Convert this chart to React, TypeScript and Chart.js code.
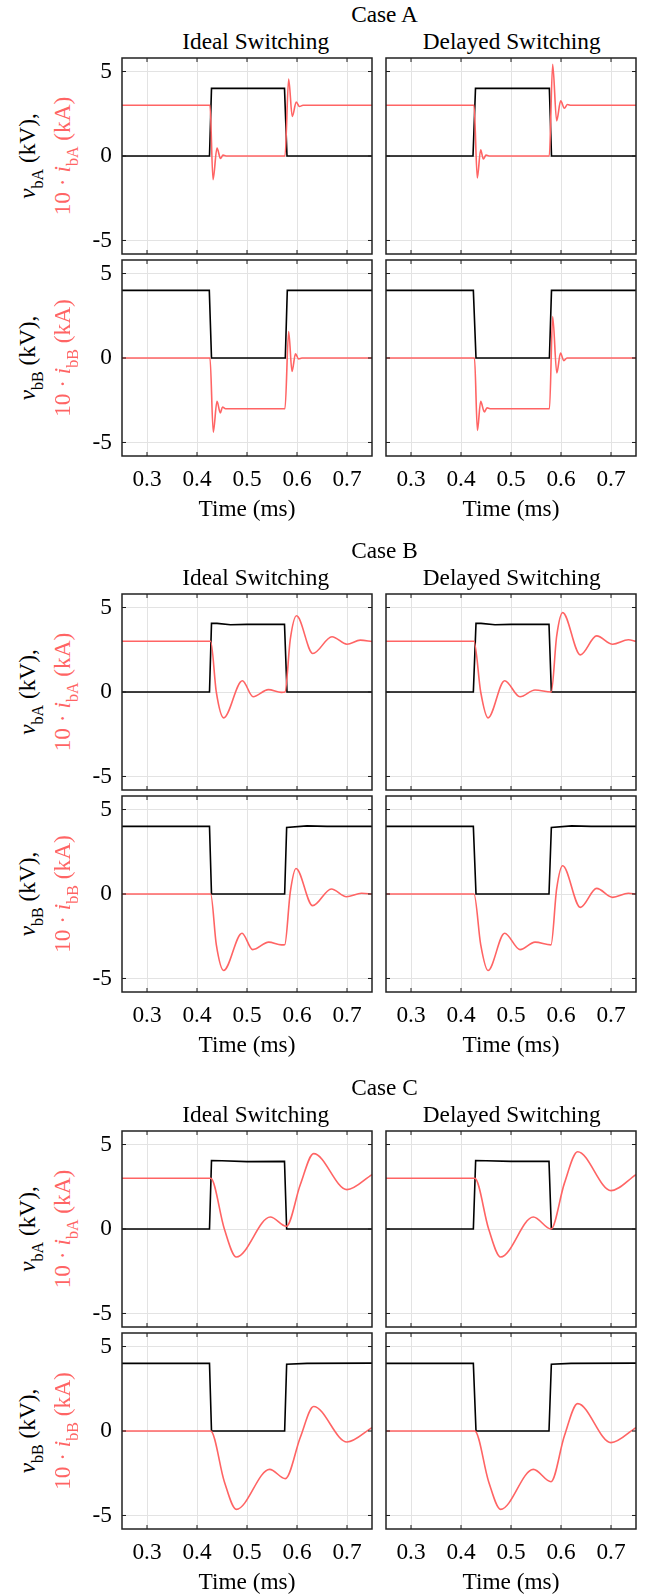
import React, { useEffect, useRef } from "react";
import { Chart, registerables } from "chart.js";

Chart.register(...registerables);

const FONT = '"Liberation Serif", "Times New Roman", Times, serif';
const FS = 23.3;
const RED = "#ff6464";
const GRID = "#e3e3e3";

// ---------- axes ----------
const X_MIN = 0.25;
const X_MAX = 0.75;
const Y_MIN = -5.8;
const Y_MAX = 5.8;
const xTickValues = [0.3, 0.4, 0.5, 0.6, 0.7];
const xTickLabels = ["0.3", "0.4", "0.5", "0.6", "0.7"];
const yTickValues = [-5, 0, 5];
const yTickLabels = ["-5", "0", "5"];

const CASE_NAMES = ["Case A", "Case B", "Case C"];
const COLUMN_TITLES = ["Ideal Switching", "Delayed Switching"];
const ROW_SUBS = ["bA", "bB"];

// ---------- Case A ----------
const aIdealVaT = [0.25, 0.425, 0.429, 0.575, 0.58, 0.75];
const aIdealVa = [0, 0, 4, 4, 0, 0];
const aIdealIaT = [0.25, 0.426, 0.432, 0.44, 0.447, 0.452, 0.458, 0.576, 0.5833, 0.5905, 0.5985, 0.605, 0.612, 0.75];
const aIdealIa = [3, 3, -1.4, 0.47, -0.15, 0.05, 0, 0, 4.55, 2.34, 3.19, 2.93, 3, 3];
const aIdealVbT = [0.25, 0.4246, 0.429, 0.5766, 0.5806, 0.75];
const aIdealVb = [4, 4, 0, 0, 4, 4];
const aIdealIbT = [0.25, 0.426, 0.4325, 0.44, 0.4466, 0.451, 0.457, 0.576, 0.5833, 0.59, 0.597, 0.603, 0.61, 0.75];
const aIdealIb = [0, 0, -4.39, -2.56, -3.25, -2.9, -3, -3, 1.57, -0.79, 0.25, -0.05, 0, 0];

const aDelVaT = [0.25, 0.424, 0.429, 0.5767, 0.581, 0.75];
const aDelVa = [0, 0, 4, 4, 0, 0];
const aDelIaT = [0.25, 0.426, 0.4326, 0.4393, 0.4447, 0.45, 0.456, 0.5766, 0.5833, 0.5913, 0.5993, 0.6067, 0.613, 0.62, 0.75];
const aDelIa = [3, 3, -1.3, 0.37, -0.18, 0.05, 0, 0, 5.43, 2.08, 3.26, 2.83, 3.05, 3, 3];
const aDelVbT = [0.25, 0.4247, 0.43, 0.5768, 0.581, 0.75];
const aDelVb = [4, 4, 0, 0, 4, 4];
const aDelIbT = [0.25, 0.427, 0.4328, 0.4393, 0.4467, 0.452, 0.458, 0.577, 0.5833, 0.5916, 0.599, 0.6056, 0.612, 0.75];
const aDelIb = [0, 0, -4.29, -2.56, -3.19, -2.95, -3, -3, 2.46, -0.89, 0.29, -0.16, 0, 0];

// ---------- Case B ----------
const bIdealVaT = [0.25, 0.425, 0.429, 0.44, 0.467, 0.5, 0.575, 0.58, 0.75];
const bIdealVa = [0, 0, 4.06, 4.06, 3.98, 4.0, 4.01, 0, 0];
const bIdealIaT = [0.25, 0.4273, 0.4386, 0.4533, 0.4907, 0.5123, 0.5427, 0.5687, 0.576, 0.5865, 0.599, 0.6317, 0.67, 0.7, 0.7266, 0.75];
const bIdealIa = [3, 3, 0, -1.53, 0.67, -0.28, 0.14, -0.02, 0, 3.1, 4.51, 2.28, 3.27, 2.83, 3.07, 2.99];
const bIdealVbT = [0.25, 0.425, 0.429, 0.5753, 0.5793, 0.62, 0.66, 0.75];
const bIdealVb = [4, 4, 0, 0, 3.94, 4.03, 4.0, 4.0];
const bIdealIbT = [0.25, 0.4273, 0.4386, 0.4533, 0.49, 0.5113, 0.5433, 0.5687, 0.5755, 0.5865, 0.598, 0.6313, 0.6687, 0.699, 0.729, 0.75];
const bIdealIb = [0, 0, -3.0, -4.53, -2.32, -3.29, -2.85, -3.01, -3.0, 0.1, 1.51, -0.69, 0.3, -0.16, 0.04, 0];

const bDelVaT = [0.25, 0.4247, 0.43, 0.44, 0.468, 0.5, 0.576, 0.5807, 0.75];
const bDelVa = [0, 0, 4.06, 4.06, 3.98, 4.0, 4.01, 0, 0];
const bDelIaT = [0.25, 0.426, 0.4394, 0.454, 0.4873, 0.518, 0.548, 0.5805, 0.5913, 0.6033, 0.6387, 0.6713, 0.7033, 0.7347, 0.75];
const bDelIa = [3, 3, 0, -1.53, 0.67, -0.28, 0.12, 0, 3.3, 4.7, 2.2, 3.32, 2.83, 3.09, 3.0];
const bDelVbT = [0.25, 0.4247, 0.43, 0.576, 0.5807, 0.6213, 0.66, 0.75];
const bDelVb = [4, 4, 0, 0, 3.94, 4.03, 4.0, 4.0];
const bDelIbT = [0.25, 0.426, 0.4394, 0.454, 0.4873, 0.518, 0.548, 0.58, 0.5913, 0.6033, 0.6387, 0.6713, 0.7033, 0.7347, 0.75];
const bDelIb = [0, 0, -3.0, -4.53, -2.32, -3.29, -2.85, -3.01, 0.3, 1.67, -0.79, 0.33, -0.2, 0.04, 0];

// ---------- Case C ----------
const cIdealVaT = [0.25, 0.425, 0.429, 0.45, 0.5, 0.575, 0.5793, 0.75];
const cIdealVa = [0, 0, 4.05, 4.04, 3.99, 4.0, 0, 0];
const cIdealIaT = [0.25, 0.4273, 0.4547, 0.4787, 0.5467, 0.5787, 0.6067, 0.6333, 0.7, 0.75];
const cIdealIa = [3, 3, 0, -1.66, 0.71, 0.16, 2.63, 4.46, 2.33, 3.22];
const cIdealVbT = [0.25, 0.425, 0.429, 0.5753, 0.5793, 0.62, 0.75];
const cIdealVb = [4, 4, 0, 0, 3.95, 4.0, 4.02];
const cIdealIbT = [0.25, 0.4273, 0.4547, 0.4787, 0.5453, 0.5767, 0.6067, 0.6333, 0.7, 0.75];
const cIdealIb = [0, 0, -3.0, -4.64, -2.27, -2.82, -0.37, 1.45, -0.65, 0.2];

const cDelVaT = [0.25, 0.4247, 0.4293, 0.45, 0.5, 0.576, 0.5807, 0.75];
const cDelVa = [0, 0, 4.05, 4.04, 4.0, 4.0, 0, 0];
const cDelIaT = [0.25, 0.4275, 0.4553, 0.4793, 0.5447, 0.58, 0.6067, 0.6333, 0.7, 0.75];
const cDelIa = [3, 3, 0, -1.66, 0.71, 0.0, 2.7, 4.57, 2.27, 3.22];
const cDelVbT = [0.25, 0.4247, 0.43, 0.576, 0.5807, 0.62, 0.75];
const cDelVb = [4, 4, 0, 0, 3.95, 4.0, 4.02];
const cDelIbT = [0.25, 0.4275, 0.4553, 0.4793, 0.5447, 0.58, 0.6067, 0.6333, 0.7, 0.75];
const cDelIb = [0, 0, -3.0, -4.64, -2.27, -3.0, -0.3, 1.62, -0.69, 0.2];

// [case][column] -> rows [ [vT, v, iT, i] top, [vT, v, iT, i] bottom ]
const SERIES = [
  [
    [[aIdealVaT, aIdealVa, aIdealIaT, aIdealIa], [aIdealVbT, aIdealVb, aIdealIbT, aIdealIb]],
    [[aDelVaT, aDelVa, aDelIaT, aDelIa], [aDelVbT, aDelVb, aDelIbT, aDelIb]],
  ],
  [
    [[bIdealVaT, bIdealVa, bIdealIaT, bIdealIa], [bIdealVbT, bIdealVb, bIdealIbT, bIdealIb]],
    [[bDelVaT, bDelVa, bDelIaT, bDelIa], [bDelVbT, bDelVb, bDelIbT, bDelIb]],
  ],
  [
    [[cIdealVaT, cIdealVa, cIdealIaT, cIdealIa], [cIdealVbT, cIdealVb, cIdealIbT, cIdealIb]],
    [[cDelVaT, cDelVa, cDelIaT, cDelIa], [cDelVbT, cDelVb, cDelIbT, cDelIb]],
  ],
];

// ---------- layout ----------
const CASE_TOPS = [58, 594, 1131];
const COL_LEFTS = [122, 386];
const ROW_OFFSETS = [0, 202];
const PANEL_W = 250;
const PANEL_H = 196;
const CASE_TITLE_X = 384.5;
const COL_TITLE_X = [255.7, 511.7];

const PAD_L = 4;
const Y_W = 60;
const PAD_R = 6;
const PAD_T = 28;
const PAD_B = 28;
const X_H = 67.8;

const framePlugin = {
  id: "frameTicks",
  afterDraw(chart: any) {
    const { ctx, chartArea: a, scales } = chart;
    ctx.save();
    ctx.strokeStyle = "#1a1a1a";
    ctx.lineWidth = 1;
    ctx.beginPath();
    for (const t of scales.x.ticks) {
      const px = scales.x.getPixelForValue(t.value);
      ctx.moveTo(px, a.top);
      ctx.lineTo(px, a.top + 4);
      ctx.moveTo(px, a.bottom);
      ctx.lineTo(px, a.bottom - 4);
    }
    for (const t of scales.y.ticks) {
      const py = scales.y.getPixelForValue(t.value);
      ctx.moveTo(a.left, py);
      ctx.lineTo(a.left + 4, py);
      ctx.moveTo(a.right, py);
      ctx.lineTo(a.right - 4, py);
    }
    ctx.stroke();
    ctx.lineWidth = 1.5;
    ctx.strokeStyle = "#222";
    ctx.strokeRect(a.left, a.top, a.right - a.left, a.bottom - a.top);
    ctx.restore();
  },
};

type PanelProps = {
  left: number;
  top: number;
  showX: boolean;
  showY: boolean;
  series: number[][];
};

function Panel({ left, top, showX, showY, series }: PanelProps) {
  const ref = useRef<HTMLCanvasElement>(null);
  const xh = showX ? X_H : 0;
  const cw = PAD_L + Y_W + PANEL_W + PAD_R;
  const ch = Math.ceil(PAD_T + PANEL_H + xh + PAD_B);

  useEffect(() => {
    if (!ref.current) return;
    const [vT, v, iT, i] = series;
    const tickFont = { size: FS, family: FONT };
    const chart = new Chart(ref.current, {
      type: "line",
      data: {
        datasets: [
          {
            data: iT.map((t, k) => ({ x: t, y: i[k] })),
            borderColor: RED,
            borderWidth: 1.6,
            pointRadius: 0,
            cubicInterpolationMode: "monotone",
            fill: false,
          },
          {
            data: vT.map((t, k) => ({ x: t, y: v[k] })),
            borderColor: "#000",
            borderWidth: 1.6,
            pointRadius: 0,
            tension: 0,
            fill: false,
          },
        ],
      },
      options: {
        animation: false,
        responsive: false,
        maintainAspectRatio: false,
        devicePixelRatio: 1,
        events: [],
        layout: { padding: { left: PAD_L, right: PAD_R, top: PAD_T, bottom: ch - PAD_T - PANEL_H - xh } },
        plugins: {
          legend: { display: false },
          tooltip: { enabled: false },
          title: { display: false },
        },
        scales: {
          x: {
            type: "linear",
            min: X_MIN,
            max: X_MAX,
            afterBuildTicks: (s: any) => {
              s.ticks = xTickValues.map((val) => ({ value: val }));
            },
            afterFit: (s: any) => {
              s.height = xh;
            },
            grid: { color: GRID, lineWidth: 1, drawTicks: false },
            border: { display: false },
            ticks: {
              display: showX,
              padding: 10,
              color: "#000",
              maxRotation: 0,
              minRotation: 0,
              autoSkip: false,
              font: tickFont,
              callback: (_v: any, idx: number) => xTickLabels[idx],
            },
            title: {
              display: showX,
              text: "Time (ms)",
              color: "#000",
              padding: 0,
              font: tickFont,
            },
          },
          y: {
            type: "linear",
            min: Y_MIN,
            max: Y_MAX,
            afterBuildTicks: (s: any) => {
              s.ticks = yTickValues.map((val) => ({ value: val }));
            },
            afterFit: (s: any) => {
              s.width = Y_W;
            },
            grid: { color: GRID, lineWidth: 1, drawTicks: false },
            border: { display: false },
            ticks: {
              display: showY,
              padding: 10,
              color: "#000",
              autoSkip: false,
              font: tickFont,
              callback: (_v: any, idx: number) => yTickLabels[idx],
            },
          },
        },
      } as any,
      plugins: [framePlugin],
    });
    return () => chart.destroy();
  }, []);

  return (
    <canvas
      ref={ref}
      width={cw}
      height={ch}
      style={{
        position: "absolute",
        left: left - PAD_L - Y_W,
        top: top - PAD_T,
        width: cw,
        height: ch,
      }}
    />
  );
}

const subStyle: React.CSSProperties = {
  fontSize: 16,
  position: "relative",
  top: 8,
  lineHeight: 0,
};

function TextAt({ x, baseline, children, color = "#000" }: any) {
  const W = 300;
  return (
    <div
      style={{
        position: "absolute",
        left: x - W / 2,
        top: baseline - 19.9,
        width: W,
        height: 24,
        lineHeight: "24px",
        fontSize: FS,
        textAlign: "center",
        whiteSpace: "nowrap",
        color,
      }}
    >
      {children}
    </div>
  );
}

function YLabel({ cy, sub }: { cy: number; sub: string }) {
  const W = 240;
  const base: React.CSSProperties = {
    position: "absolute",
    top: cy - 12,
    width: W,
    height: 24,
    lineHeight: "24px",
    fontSize: FS,
    textAlign: "center",
    whiteSpace: "nowrap",
    transform: "rotate(-90deg)",
    transformOrigin: "50% 50%",
  };
  return (
    <>
      <div style={{ ...base, left: 26.6 - W / 2, color: "#000" }}>
        <i>v</i>
        <span style={subStyle}>{sub}</span> (kV),
      </div>
      <div style={{ ...base, left: 62.1 - W / 2, color: RED }}>
        10 · <i>i</i>
        <span style={subStyle}>{sub}</span> (kA)
      </div>
    </>
  );
}

export default function App() {
  const items: any[] = [];
  CASE_NAMES.forEach((name, ci) => {
    const caseTop = CASE_TOPS[ci];
    items.push(
      <TextAt key={`ct${ci}`} x={CASE_TITLE_X} baseline={caseTop - 36}>
        {name}
      </TextAt>
    );
    COLUMN_TITLES.forEach((title, col) => {
      items.push(
        <TextAt key={`st${ci}${col}`} x={COL_TITLE_X[col]} baseline={caseTop - 9.3}>
          {title}
        </TextAt>
      );
    });
    ROW_OFFSETS.forEach((off, row) => {
      const rowTop = caseTop + off;
      items.push(<YLabel key={`yl${ci}${row}`} cy={rowTop + PANEL_H / 2} sub={ROW_SUBS[row]} />);
      COL_LEFTS.forEach((colLeft, col) => {
        items.push(
          <Panel
            key={`p${ci}${row}${col}`}
            left={colLeft}
            top={rowTop}
            showX={row === 1}
            showY={col === 0}
            series={SERIES[ci][col][row]}
          />
        );
      });
    });
  });

  return (
    <div
      style={{
        position: "absolute",
        left: 0,
        top: 0,
        width: 645,
        height: 1595,
        background: "#fff",
        overflow: "hidden",
        fontFamily: FONT,
      }}
    >
      {items}
    </div>
  );
}
